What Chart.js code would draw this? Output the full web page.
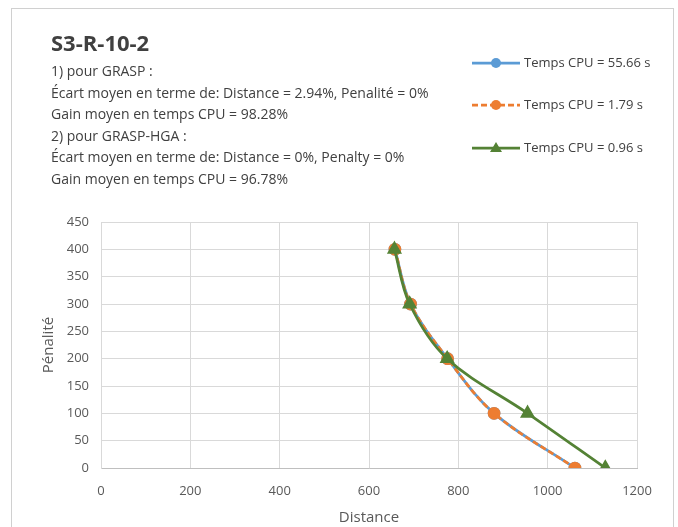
<!DOCTYPE html>
<html>
<head>
<meta charset="utf-8">
<script src="https://cdn.jsdelivr.net/npm/chart.js@4/dist/chart.umd.min.js"></script>
<style>
html,body{margin:0;padding:0;background:#fff;}
#wrap{position:relative;width:678px;height:527px;}
#frame{position:absolute;left:11px;top:8px;width:663px;height:530px;border:1px solid #d0d0d0;box-sizing:border-box;}
canvas{position:absolute;left:0;top:0;}
</style>
</head>
<body>
<div id="wrap"><div id="frame"></div><canvas id="c" width="678" height="527"></canvas></div>
<script>
const chartTitle = "S3-R-10-2";
const infoLines = [
  "1) pour GRASP :",
  "Écart moyen en terme de: Distance = 2.94%, Penalité = 0%",
  "Gain moyen en temps CPU = 98.28%",
  "2) pour GRASP-HGA :",
  "Écart moyen en terme de: Distance = 0%, Penalty = 0%",
  "Gain moyen en temps CPU = 96.78%"
];
const seriesNames = ["Temps CPU = 55.66 s", "Temps CPU = 1.79 s", "Temps CPU = 0.96 s"];
const penalty = [400, 300, 200, 100, 0];
const distanceA = [658, 693, 776, 880, 1061];
const distanceB = [658, 693, 776, 880, 1061];
const distanceC = [657, 691, 775, 955, 1129];
const xTicks = [0, 200, 400, 600, 800, 1000, 1200];
const yTicks = [0, 50, 100, 150, 200, 250, 300, 350, 400, 450];

const toPts = (xs, ys) => xs.map((x, i) => ({x: x, y: ys[i]}));
const FONT = "'Open Sans', sans-serif";
const colors = ["#5B9BD5", "#ED7D31", "#548235"];

const overlay = {
  id: 'overlay',
  afterDraw(chart) {
    const ctx = chart.ctx;
    ctx.save();
    ctx.fillStyle = "#404040";
    ctx.textBaseline = "middle";
    ctx.textAlign = "left";
    ctx.font = "bold 22px " + FONT;
    ctx.fillText(chartTitle, 51, 45);
    ctx.font = "14px " + FONT;
    infoLines.forEach((t, i) => ctx.fillText(t, 51, 72 + i * 21.6));
    // legend
    const ly = [63, 105, 148];
    chart.data.datasets.forEach((ds, i) => {
      const y = ly[i];
      ctx.strokeStyle = ds.borderColor;
      ctx.lineWidth = 2.75;
      ctx.setLineDash(ds.borderDash || []);
      ctx.beginPath(); ctx.moveTo(472, y); ctx.lineTo(520, y); ctx.stroke();
      ctx.setLineDash([]);
      ctx.fillStyle = ds.pointBackgroundColor;
      ctx.beginPath();
      if (ds.pointStyle === 'triangle') {
        ctx.moveTo(496, y - 6); ctx.lineTo(502, y + 4); ctx.lineTo(490, y + 4); ctx.closePath();
      } else {
        ctx.arc(496, y, 5, 0, Math.PI * 2);
      }
      ctx.fill();
      ctx.fillStyle = "#404040";
      ctx.font = "13px " + FONT;
      ctx.fillText(seriesNames[i], 524, y);
    });
    ctx.restore();
  }
};

new Chart(document.getElementById('c'), {
  type: 'line',
  data: {
    datasets: [
      {label: seriesNames[0], data: toPts(distanceA, penalty), borderColor: colors[0], backgroundColor: colors[0],
       pointBackgroundColor: colors[0], pointBorderColor: colors[0], borderWidth: 2.75, pointRadius: 5, tension: 0.35, order: 3},
      {label: seriesNames[1], data: toPts(distanceB, penalty), borderColor: colors[1], backgroundColor: colors[1],
       pointBackgroundColor: colors[1], pointBorderColor: colors[1], borderWidth: 2.75, borderDash: [6, 3], pointRadius: 5, tension: 0.35, order: 2},
      {label: seriesNames[2], data: toPts(distanceC, penalty), borderColor: colors[2], backgroundColor: colors[2],
       pointBackgroundColor: colors[2], pointBorderColor: colors[2], borderWidth: 2.75, pointStyle: 'triangle', pointRadius: 6, tension: 0.35, order: 1}
    ]
  },
  options: {
    responsive: false,
    animation: false,
    layout: {padding: {left: 36, right: 41, top: 222, bottom: 0}},
    plugins: {legend: {display: false}, tooltip: {enabled: false}, title: {display: false}},
    scales: {
      x: {
        type: 'linear', min: 0, max: 1200,
        afterBuildTicks: s => { s.ticks = xTicks.map(v => ({value: v})); },
        grid: {color: "#d9d9d9", drawTicks: false},
        border: {color: "#bfbfbf"},
        ticks: {color: "#595959", font: {family: FONT, size: 13}, padding: 15, callback: v => String(v)},
        title: {display: true, text: "Distance", color: "#595959", font: {family: FONT, size: 15}, padding: {top: 2, bottom: 0}},
        afterFit: s => { s.height = 59; }
      },
      y: {
        type: 'linear', min: 0, max: 450,
        afterBuildTicks: s => { s.ticks = yTicks.map(v => ({value: v})); },
        grid: {color: "#d9d9d9", drawTicks: false},
        border: {color: "#d9d9d9"},
        ticks: {color: "#595959", font: {family: FONT, size: 13}, padding: 12, callback: v => String(v)},
        title: {display: true, text: "Pénalité", color: "#595959", font: {family: FONT, size: 15}, padding: {top: 4, bottom: 4}},
        afterFit: s => { s.width = 65; }
      }
    }
  },
  plugins: [overlay]
});
</script>
</body>
</html>
